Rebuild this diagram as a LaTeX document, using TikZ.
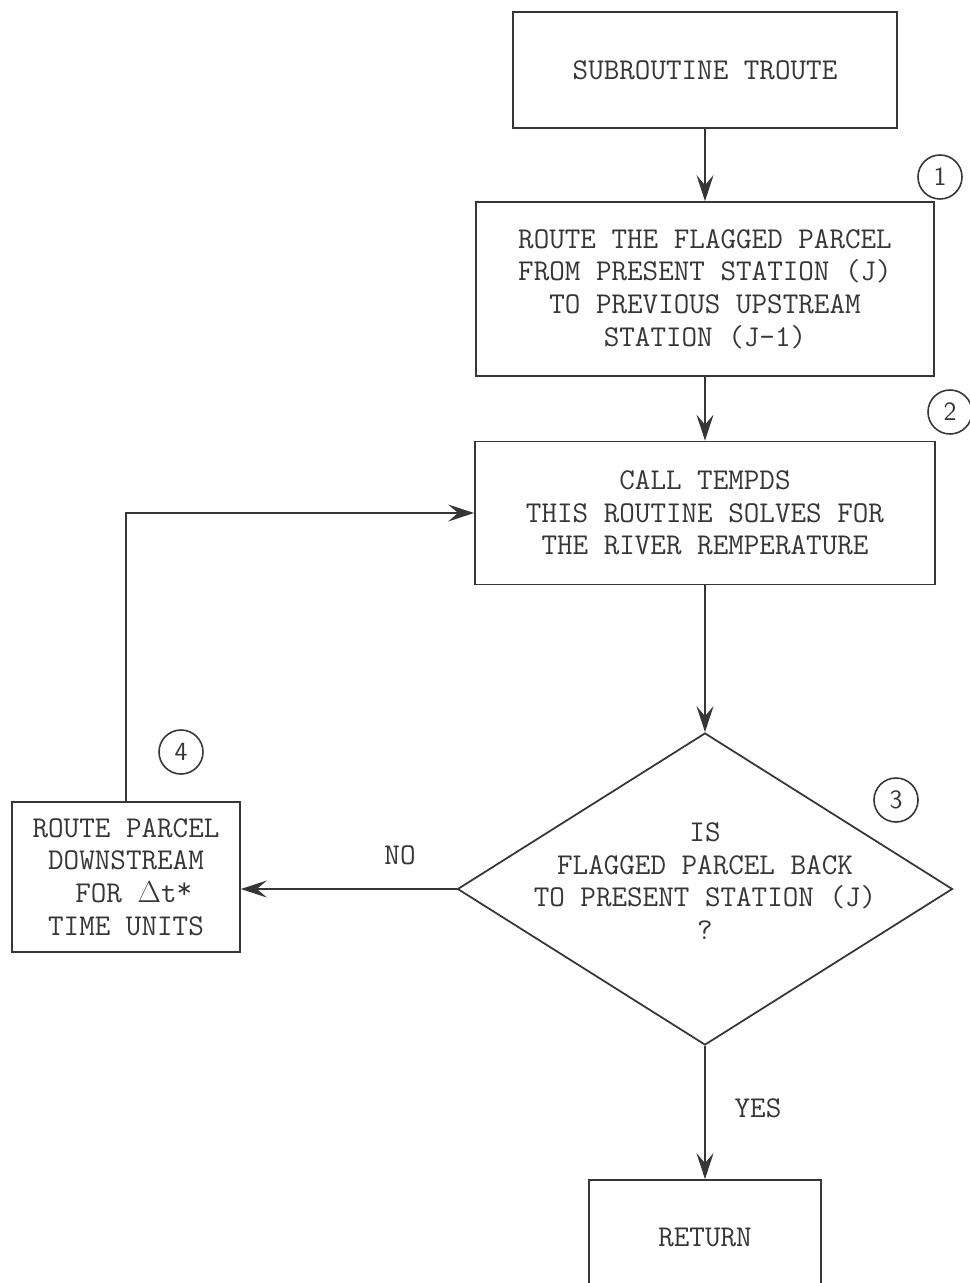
\documentclass[tikz,border=0pt]{standalone}
\usepackage{fontspec}
\usetikzlibrary{arrows.meta,positioning,calc,shapes.geometric}
\definecolor{ink}{HTML}{363636}
\newcommand{\flowfont}{\ttfamily\fontsize{17.2}{18.6}\selectfont}
\newcommand{\stepfont}{\sffamily\fontsize{15}{16}\selectfont}
\tikzset{flowbox/.style={draw=ink,line width=1pt,align=center,font=\flowfont,text=ink,inner sep=2pt},flowarr/.style={-{Stealth[length=5.2mm,width=3.4mm,inset=2mm]},line width=1pt,draw=ink},flowstep/.style={circle,draw=ink,line width=0.9pt,minimum size=8.8mm,inner sep=0pt,font=\stepfont,text=ink},flowlabel/.style={font=\flowfont,text=ink,align=center}}

\begin{document}
\begin{tikzpicture}
\useasboundingbox (0,0) rectangle (19.4,-25.66);
\node[flowbox,minimum width=7.68cm,minimum height=2.32cm] (start) at (14.1,-1.40) {SUBROUTINE TROUTE};
\node[flowbox,minimum width=9.16cm,minimum height=3.48cm] (route) at (14.1,-5.78) {ROUTE THE FLAGGED PARCEL\\FROM PRESENT STATION (J)\\TO PREVIOUS UPSTREAM\\STATION (J-1)};
\node[flowbox,minimum width=9.2cm,minimum height=2.86cm] (tempds) at (14.1,-10.26) {CALL TEMPDS\\THIS ROUTINE SOLVES FOR\\THE RIVER REMPERATURE};
\node[flowbox,shape=diamond,minimum width=9.9cm,minimum height=6.24cm,inner sep=0pt] (test) at (14.1,-17.78) {};
\node[flowlabel] (testtext) at (14.1,-17.62) {IS\\FLAGGED PARCEL BACK\\TO PRESENT STATION (J)\\?};
\node[flowbox,minimum width=4.56cm,minimum height=3.0cm] (down) at (2.52,-17.54) {ROUTE PARCEL\\DOWNSTREAM\\\ FOR $\Delta$t\raisebox{0.3ex}{*}\\TIME UNITS};
\node[flowbox,minimum width=4.64cm,minimum height=2.3cm] (ret) at (14.1,-24.75) {RETURN};
\node[flowstep] (s1) at (18.8,-3.54) {1};
\node[flowstep] (s2) at (19.0,-8.24) {2};
\node[flowstep] (s3) at (17.92,-16.0) {3};
\node[flowstep] (s4) at (3.62,-15.04) {4};
\foreach \a/\b in {start/route,route/tempds,tempds/test,test/ret} \draw[flowarr] (\a) -- (\b);
\draw[flowarr] (test.west) -- (test.west -| down.east);
\draw[flowarr] (down.north) |- (tempds.west);
\node[flowlabel] (no) at (8.0,-17.1) {NO};
\node[flowlabel] (yes) at (15.16,-22.16) {YES};
\end{tikzpicture}
\end{document}
